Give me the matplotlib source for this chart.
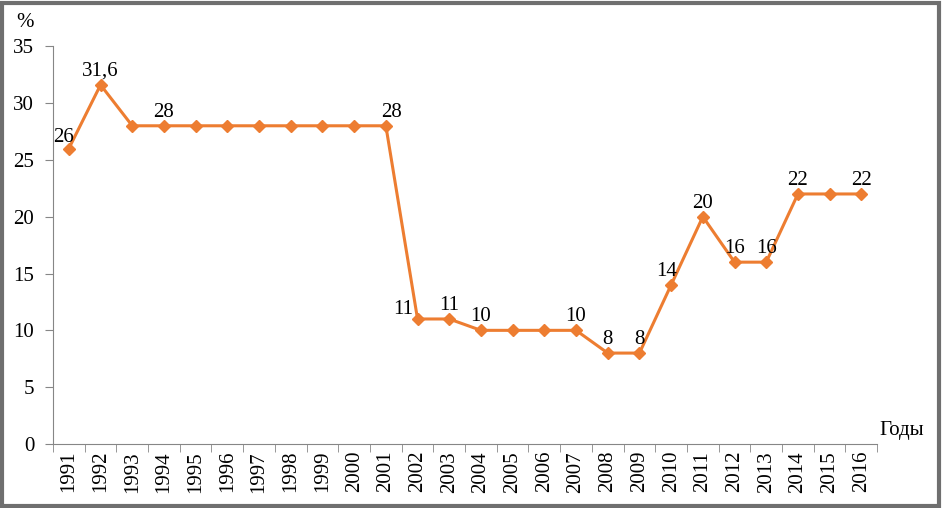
import matplotlib.pyplot as plt
from matplotlib.patches import Rectangle
from matplotlib.ticker import FixedLocator

plt.rcParams['font.family'] = ['Liberation Serif', 'DejaVu Serif']

years = list(range(1991, 2017))
values = [26, 31.6, 28, 28, 28, 28, 28, 28, 28, 28, 28, 11, 11, 10, 10, 10, 10,
          8, 8, 14, 20, 16, 16, 22, 22, 22]

# which points carry a label and where it sits (dx, dy in points)
label_pos = {
    1991: (-4, 1), 1992: (0, 3), 1994: (0, 3), 2001: (4, 3), 2002: (-10, 0),
    2003: (0, 3), 2004: (0, 3), 2007: (0, 3), 2008: (0, 3), 2009: (0, 3),
    2010: (-3, 3), 2011: (0, 3), 2012: (0, 3), 2013: (0, 3), 2014: (0, 3),
    2016: (0, 3),
}

color = '#ED7D31'
axis_color = '#868686'
fs = 15

fig = plt.figure(figsize=(9.43, 5.08), dpi=100)
ax = fig.add_axes([0.0562, 0.126, 0.874, 0.783])

x = list(range(len(years)))
ax.plot(x, values, color=color, lw=2.2, marker='D', ms=6, mec=color, mfc=color)

for i, (yr, v) in enumerate(zip(years, values)):
    if yr in label_pos:
        dx, dy = label_pos[yr]
        txt = str(v).replace('.', ',')
        ax.annotate(txt, (i, v), xytext=(dx, dy), textcoords='offset points',
                    ha='center', va='bottom', fontsize=fs)

ax.set_xlim(-0.5, len(years) - 0.5)
ax.set_ylim(0, 35)
ax.set_yticks(range(0, 36, 5))
ax.set_xticks(x)
ax.set_xticklabels([str(y) for y in years], rotation=90, fontsize=fs)
ax.xaxis.set_minor_locator(FixedLocator([i - 0.5 for i in range(len(years) + 1)]))
ax.tick_params(axis='x', which='major', length=0, pad=5)
ax.tick_params(axis='x', which='minor', length=5.5, color=axis_color)
ax.tick_params(axis='y', length=5.5, color=axis_color, labelsize=fs, pad=8)

for s in ['top', 'right']:
    ax.spines[s].set_visible(False)
for s in ['left', 'bottom']:
    ax.spines[s].set_color(axis_color)

fig.text(0.017, 0.955, '%', fontsize=fs, ha='left', va='center')
fig.text(0.933, 0.152, 'Годы', fontsize=fs, ha='left', va='center')

fig.patches.append(Rectangle((0.002, 0.004), 0.994, 0.99, transform=fig.transFigure,
                             fill=False, ec='#6f6f6f', lw=3))

fig.savefig('out.png', dpi=100)
